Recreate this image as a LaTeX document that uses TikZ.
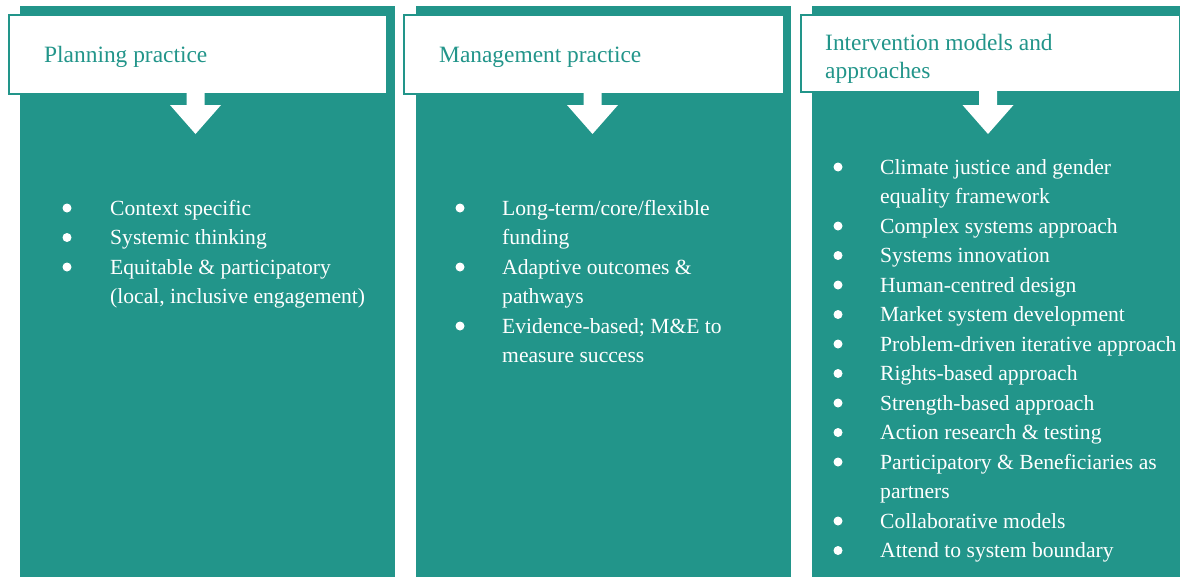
\documentclass[tikz,border=0pt]{standalone}
\usepackage{fontspec}
\setmainfont{Liberation Serif}
\definecolor{paneteal}{HTML}{22958A}
\begin{document}
\begin{tikzpicture}[x=1pt,y=-1pt,
  panel/.style={fill=paneteal,draw=none},
  header/.style={fill=white,draw=paneteal,line width=1.5pt,anchor=north west,inner sep=0},
  hdtext/.style={text=paneteal,font=\fontsize{23.4}{28}\selectfont,anchor=base west,inner sep=0},
  item/.style={text=white,font=\fontsize{21.6}{29.5}\selectfont,anchor=base west,inner sep=0},
  dot/.style={circle,fill=white,minimum size=9pt,inner sep=0},
  blockarrow/.style={fill=white,draw=none}]
\useasboundingbox (0,0) rectangle (1180,576);
\clip (0,0) rectangle (1180,576);

% teal columns
\node[panel,anchor=north west,minimum width=375,minimum height=580,inner sep=0] (p1) at (20,6) {};
\node[panel,anchor=north west,minimum width=375,minimum height=580,inner sep=0] (p2) at (416,6) {};
\node[panel,anchor=north west,minimum width=375,minimum height=580,inner sep=0] (p3) at (812,6) {};

% header boxes
\node[header,minimum width=378,minimum height=79] (h1) at (8,14) {};
\node[header,minimum width=380,minimum height=79] (h2) at (403,14) {};
\node[header,minimum width=379,minimum height=77] (h3) at (800,14) {};

\node[hdtext] (t1) at (44,62) {Planning practice};
\node[hdtext] (t2) at (439,62) {Management practice};
\node[hdtext] (t3a) at (825,50) {Intervention models and};
\node[hdtext] (t3b) at (825,78) {approaches};

% down arrows from each header into its column
\foreach \cx/\top in {195.5/92, 592.5/92, 988/89}{
  \fill[blockarrow] (\cx-9,\top) -- (\cx+9,\top) -- (\cx+9,105) -- (\cx+25.5,105)
    -- (\cx,134) -- (\cx-25.5,105) -- (\cx-9,105) -- cycle;
}

% first column list
\foreach \b/\t [count=\i] in {1/{Context specific},1/{Systemic thinking},
    1/{Equitable \& participatory},0/{(local, inclusive engagement)}}{
  \node[item] (a\i) at (110,{215+29.5*(\i-1)}) {\t};
  \ifnum\b=1 \node[dot] (ad\i) at (67,{208+29.5*(\i-1)}) {};\fi
}

% second column list
\foreach \b/\t [count=\i] in {1/{Long-term/core/flexible},0/{funding},
    1/{Adaptive outcomes \&},0/{pathways},1/{Evidence-based; M\&E to},0/{measure success}}{
  \node[item] (b\i) at (502,{215+29.5*(\i-1)}) {\t};
  \ifnum\b=1 \node[dot] (bd\i) at (460,{208+29.5*(\i-1)}) {};\fi
}

% third column list
\foreach \b/\t [count=\i] in {1/{Climate justice and gender},0/{equality framework},
    1/{Complex systems approach},1/{Systems innovation},1/{Human-centred design},
    1/{Market system development},1/{Problem-driven iterative approach},
    1/{Rights-based approach},1/{Strength-based approach},1/{Action research \& testing},
    1/{Participatory \& Beneficiaries as},0/{partners},1/{Collaborative models},
    1/{Attend to system boundary}}{
  \node[item] (c\i) at (880,{174+29.5*(\i-1)}) {\t};
  \ifnum\b=1 \node[dot] (cd\i) at (838,{167+29.5*(\i-1)}) {};\fi
}
\end{tikzpicture}
\end{document}
